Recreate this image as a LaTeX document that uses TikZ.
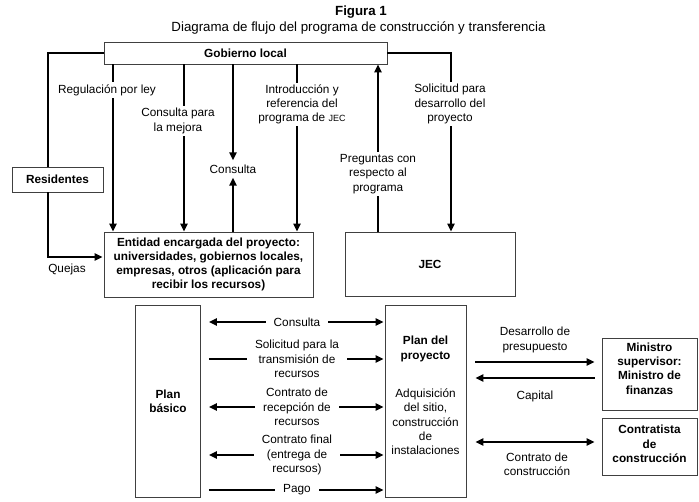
\documentclass[tikz,border=0pt]{standalone}
\usepackage{fontspec}
\setmainfont{Liberation Sans}
\usetikzlibrary{arrows.meta,calc}
\newcommand{\mfont}{\fontsize{11.8}{14.3}\selectfont}
\newcommand{\tfont}{\fontsize{13.3}{15}\selectfont}
\tikzset{
  box/.style={draw=black!75, line width=0.8pt, align=center, font=\mfont\bfseries, inner sep=2pt},
  conn/.style={line width=2.4pt, line cap=butt},
  arr/.style={conn, -{Triangle[length=8pt,width=7pt]}},
  darr/.style={conn, {Triangle[length=8pt,width=7pt]}-{Triangle[length=8pt,width=7pt]}},
  rarr/.style={conn, {Triangle[length=8pt,width=7pt]}-},
  lbl/.style={fill=white, align=center, inner xsep=5pt, inner ysep=2pt},
  hlbl/.style={fill=white, align=center, inner xsep=8pt, inner ysep=1pt},
  txt/.style={align=center, inner sep=0pt}
}
\begin{document}
\begin{tikzpicture}[x=1pt,y=-1pt, font=\mfont]
\useasboundingbox (0,0) rectangle (699,502);

% titles
\node[txt, font=\tfont\bfseries] (fig) at (361,12) {Figura 1};
\node[txt, font=\tfont] (sub) at (358.5,28) {Diagrama de flujo del programa de construcción y transferencia};

% boxes
\node[box, minimum width=283pt, minimum height=22pt] (gob) at (245.5,53) {Gobierno local};
\node[box, minimum width=91pt, minimum height=25pt] (res) at (57.5,179.5) {Residentes};
\node[box, minimum width=209pt, minimum height=65pt] (ent) at (208.5,264.5)
  {Entidad encargada del proyecto:\\universidades, gobiernos locales,\\empresas, otros (aplicación para\\recibir los recursos)};
\node[box, minimum width=170pt, minimum height=64pt] (jec) at (430,264) {JEC};
\node[box, minimum width=65pt, minimum height=192pt] (pb) at (168,401) {Plan\\básico};
\node[box, minimum width=81pt, minimum height=192pt] (pp) at (425.5,401) {};
\node[txt, font=\mfont\bfseries] (pptitle) at (425.5,349) {Plan del\\proyecto};
\node[txt] (ppbody) at (425.5,422) {Adquisición\\del sitio,\\construcción\\de\\instalaciones};
\node[box, minimum width=95pt, minimum height=72pt] (min) at (649.5,374) {};
\node[txt, font=\mfont\bfseries] (mintxt) at (649.5,368.5) {Ministro\\supervisor:\\Ministro de\\finanzas};
\node[box, minimum width=95pt, minimum height=57pt] (con) at (649.5,446.5) {};
\node[txt, font=\mfont\bfseries] (contxt) at (649.5,444) {Contratista\\de\\construcción};

% upper connectors
\draw[conn] (gob.west) -| (res.north -| 48,0);
\draw[arr] (res.south -| 48,0) |- ($(ent.west |- 0,257)+(-1,0)$);
\node[txt] (quejas) at (67,269) {Quejas};

\draw[arr] (gob.south -| 113,0) -- (ent.north -| 113,0);
\node[lbl] (reg) at (107,90) {Regulación por ley};

\draw[arr] (gob.south -| 184,0) -- (ent.north -| 184,0);
\node[lbl] (cmej) at (178,121) {Consulta para\\la mejora};

\node[txt, inner sep=4pt] (cons) at (233,169) {Consulta};
\draw[arr] (gob.south -| 233,0) -- (cons.north);
\draw[arr] (ent.north -| 233,0) -- (cons.south);

\draw[arr] (gob.south -| 297,0) -- (ent.north -| 297,0);
\node[lbl] (intro) at (302,104.5) {Introducción y\\referencia del\\programa de {\fontsize{9}{10}\selectfont JEC}};

\draw[arr] (jec.north -| 378,0) -- (gob.south -| 378,0);
\node[lbl] (preg) at (378,174) {Preguntas con\\respecto al\\programa};

\draw[arr] (gob.east) -| (jec.north -| 451,0);
\node[lbl] (solp) at (450,104) {Solicitud para\\desarrollo del\\proyecto};

% lower left connectors
\draw[darr, shorten <=8pt, shorten >=1pt] (pb.east |- 0,322) -- (pp.west |- 0,322);
\node[hlbl] (c1) at (297,322) {Consulta};
\draw[arr, shorten <=8pt, shorten >=1pt] (pb.east |- 0,359) -- (pp.west |- 0,359);
\node[hlbl] (c2) at (297,359) {Solicitud para la\\transmisión de\\recursos};
\draw[darr, shorten <=8pt, shorten >=1pt] (pb.east |- 0,407) -- (pp.west |- 0,407);
\node[hlbl] (c3) at (297,407) {Contrato de\\recepción de\\recursos};
\draw[darr, shorten <=8pt, shorten >=1pt] (pb.east |- 0,455) -- (pp.west |- 0,455);
\node[hlbl] (c4) at (297,455) {Contrato final\\(entrega de\\recursos)};
\draw[arr, shorten <=8pt, shorten >=1pt] (pb.east |- 0,490) -- (pp.west |- 0,490);
\node[hlbl] (c5) at (297,490) {Pago};

% right connectors
\draw[arr, shorten <=9pt, shorten >=7pt] (pp.east |- 0,362) -- (min.west |- 0,362);
\node[txt] (desp) at (535,340) {Desarrollo de\\presupuesto};
\draw[rarr, shorten <=9pt, shorten >=7pt] (pp.east |- 0,378) -- (min.west |- 0,378);
\node[txt] (cap) at (535,396) {Capital};
\draw[darr, shorten <=9pt, shorten >=7pt] (pp.east |- 0,442) -- (con.west |- 0,442);
\node[txt] (ccon) at (537,464) {Contrato de\\construcción};
\end{tikzpicture}
\end{document}
